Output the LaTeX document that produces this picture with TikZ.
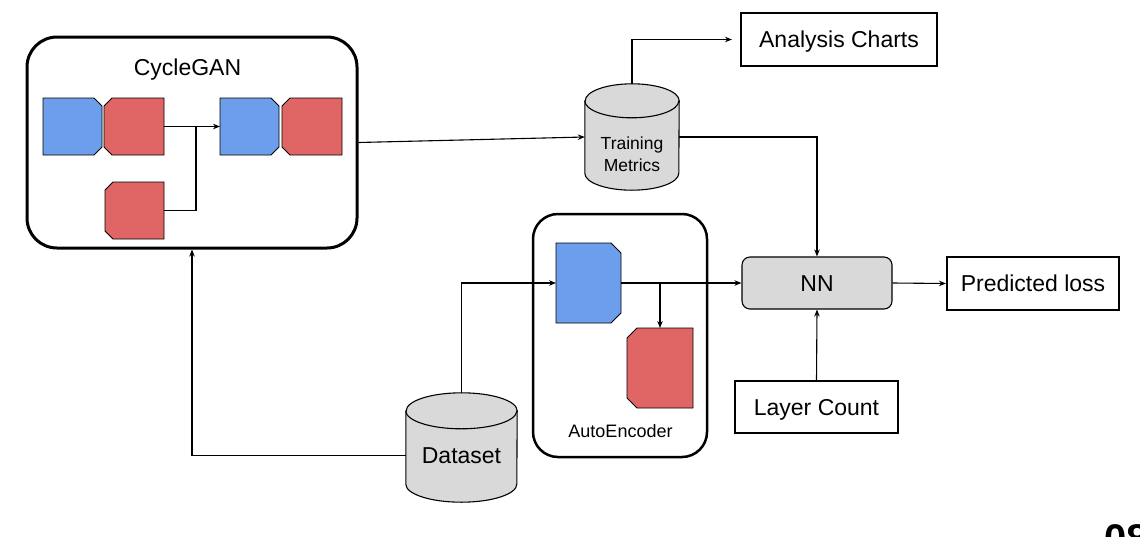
\documentclass[tikz,border=0pt]{standalone}
\usepackage{fontspec}
\setmainfont{Liberation Sans}
\usetikzlibrary{arrows.meta}
\definecolor{gblue}{HTML}{6D9EEB}
\definecolor{gred}{HTML}{E06666}
\definecolor{ggray}{HTML}{D9D9D9}
\tikzset{
  conn/.style={line width=1.1pt, -{Stealth[length=7pt,width=5.5pt]}},
  wire/.style={line width=1.1pt},
  bigtext/.style={font=\fontsize{23}{27}\selectfont, text height=16.5pt, text depth=0pt},
  smalltext/.style={font=\fontsize{17.5}{22}\selectfont},
  outbox/.style={draw, line width=2pt, inner sep=0pt, bigtext},
  group/.style={draw, rounded corners=#1, inner sep=0pt},
  cbox/.style={inner sep=0pt, outer sep=0pt},
  blkline/.style={draw, line width=0.8pt, fill=#1},
  cylbody/.style={draw, fill=ggray, line width=1.1pt},
  cylbox/.style={inner sep=0pt},
}
% chamfered block, chamfers on the right side: name, size, colour
\newcommand\mkchamR[3]{\path[blkline=#3] (#1.north west) -- ([xshift=-#2]#1.north east) -- ([yshift=-#2]#1.north east) -- ([yshift=#2]#1.south east) -- ([xshift=-#2]#1.south east) -- (#1.south west) -- cycle;}
% chamfered block, chamfers on the left side
\newcommand\mkchamL[3]{\path[blkline=#3] (#1.north east) -- ([xshift=#2]#1.north west) -- ([yshift=-#2]#1.north west) -- ([yshift=#2]#1.south west) -- ([xshift=#2]#1.south west) -- (#1.south east) -- cycle;}
\begin{document}
\begin{tikzpicture}[x=1pt,y=-1pt]
\useasboundingbox (0,0) rectangle (1140,536);

% CycleGAN group
\node[group=30pt, line width=3pt, minimum width=330pt, minimum height=211pt] (cg) at (192,142.5) {};
\node[bigtext] (cgt) at (187.5,67.5) {CycleGAN};
\node[cbox, minimum width=59pt, minimum height=57pt] (b1) at (72.5,126.5) {};
\node[cbox, minimum width=60pt, minimum height=57pt] (r1) at (134,126.5) {};
\node[cbox, minimum width=59pt, minimum height=57pt] (b2) at (249.5,126.5) {};
\node[cbox, minimum width=60pt, minimum height=57pt] (r2) at (312,126.5) {};
\node[cbox, minimum width=59pt, minimum height=57pt] (r3) at (134.5,210.5) {};
\mkchamR{b1}{8pt}{gblue}
\mkchamL{r1}{8pt}{gred}
\mkchamR{b2}{8pt}{gblue}
\mkchamL{r2}{8pt}{gred}
\mkchamL{r3}{8pt}{gred}
\coordinate (j1) at (196,126.5);
\draw[conn] (r1.east) -- (b2.west);
\draw[wire] (r3.east) -| (j1);

% Training metrics cylinder
\node[cylbox, minimum width=94pt, minimum height=106pt] (tm) at (632,137) {};
\draw[cylbody] ([yshift=-17pt]tm.north west) -- ([yshift=17pt]tm.south west)
  arc[start angle=180,end angle=360,x radius=47pt,y radius=17pt]
  -- ([yshift=-17pt]tm.north east)
  arc[start angle=0,end angle=180,x radius=47pt,y radius=17pt] -- cycle;
\draw[wire] ([yshift=-17pt]tm.north west) arc[start angle=180,end angle=360,x radius=47pt,y radius=17pt];
\node[smalltext, align=center] (tmt) at (632,154) {Training\\Metrics};

% Dataset cylinder
\node[cylbox, minimum width=111pt, minimum height=109pt] (ds) at (461.5,447.5) {};
\draw[cylbody] ([yshift=-18pt]ds.north west) -- ([yshift=18pt]ds.south west)
  arc[start angle=180,end angle=360,x radius=55.5pt,y radius=18pt]
  -- ([yshift=-18pt]ds.north east)
  arc[start angle=0,end angle=180,x radius=55.5pt,y radius=18pt] -- cycle;
\draw[wire] ([yshift=-18pt]ds.north west) arc[start angle=180,end angle=360,x radius=55.5pt,y radius=18pt];
\node[bigtext] (dst) at (461.5,455.5) {Dataset};

% AutoEncoder group
\node[group=25pt, line width=2.5pt, minimum width=174pt, minimum height=243pt] (ae) at (620,335.5) {};
\node[font=\fontsize{18}{22}\selectfont, text height=12.9pt, text depth=0pt] (aet) at (620.5,431) {AutoEncoder};
\node[cbox, minimum width=65pt, minimum height=80pt] (aeb) at (588.5,283) {};
\node[cbox, minimum width=66pt, minimum height=80pt] (aer) at (660,368) {};
\mkchamR{aeb}{10pt}{gblue}
\mkchamL{aer}{10pt}{gred}

% Right side boxes
\node[draw, fill=ggray, rounded corners=8pt, line width=1.1pt, minimum width=150pt, minimum height=52pt, inner sep=0pt, bigtext] (nn) at (817,283) {NN};
\node[outbox, minimum width=172pt, minimum height=53pt] (pl) at (1033,283.5) {Predicted loss};
\node[outbox, minimum width=163pt, minimum height=52pt] (lc) at (816.5,407) {Layer Count};
\node[outbox, minimum width=196pt, minimum height=53pt] (ac) at (839,39.5) {Analysis Charts};

% Connectors
\draw[conn] (cg.east) -- (tm.west);
\draw[conn, shorten >=8pt] (tm.north) |- (ac.west);
\draw[conn] (tm.east) -| (nn.north);
\draw[conn] (ds.west |- dst.center) -| (cg.south);
\draw[conn] (ds.north) |- (aeb.west);
\draw[conn] (aeb.east) -- (nn.west);
\coordinate (j2) at (660,283);
\draw[conn] (j2) -- (aer.north);
\draw[conn] (lc.north) -- (nn.south);
\draw[conn] (nn.east) -- (pl.west);

% partially visible page number
\node[anchor=north west, inner sep=0pt, font=\bfseries\fontsize{40}{40}\selectfont] (pg) at (1104,524) {08};
\end{tikzpicture}
\end{document}
